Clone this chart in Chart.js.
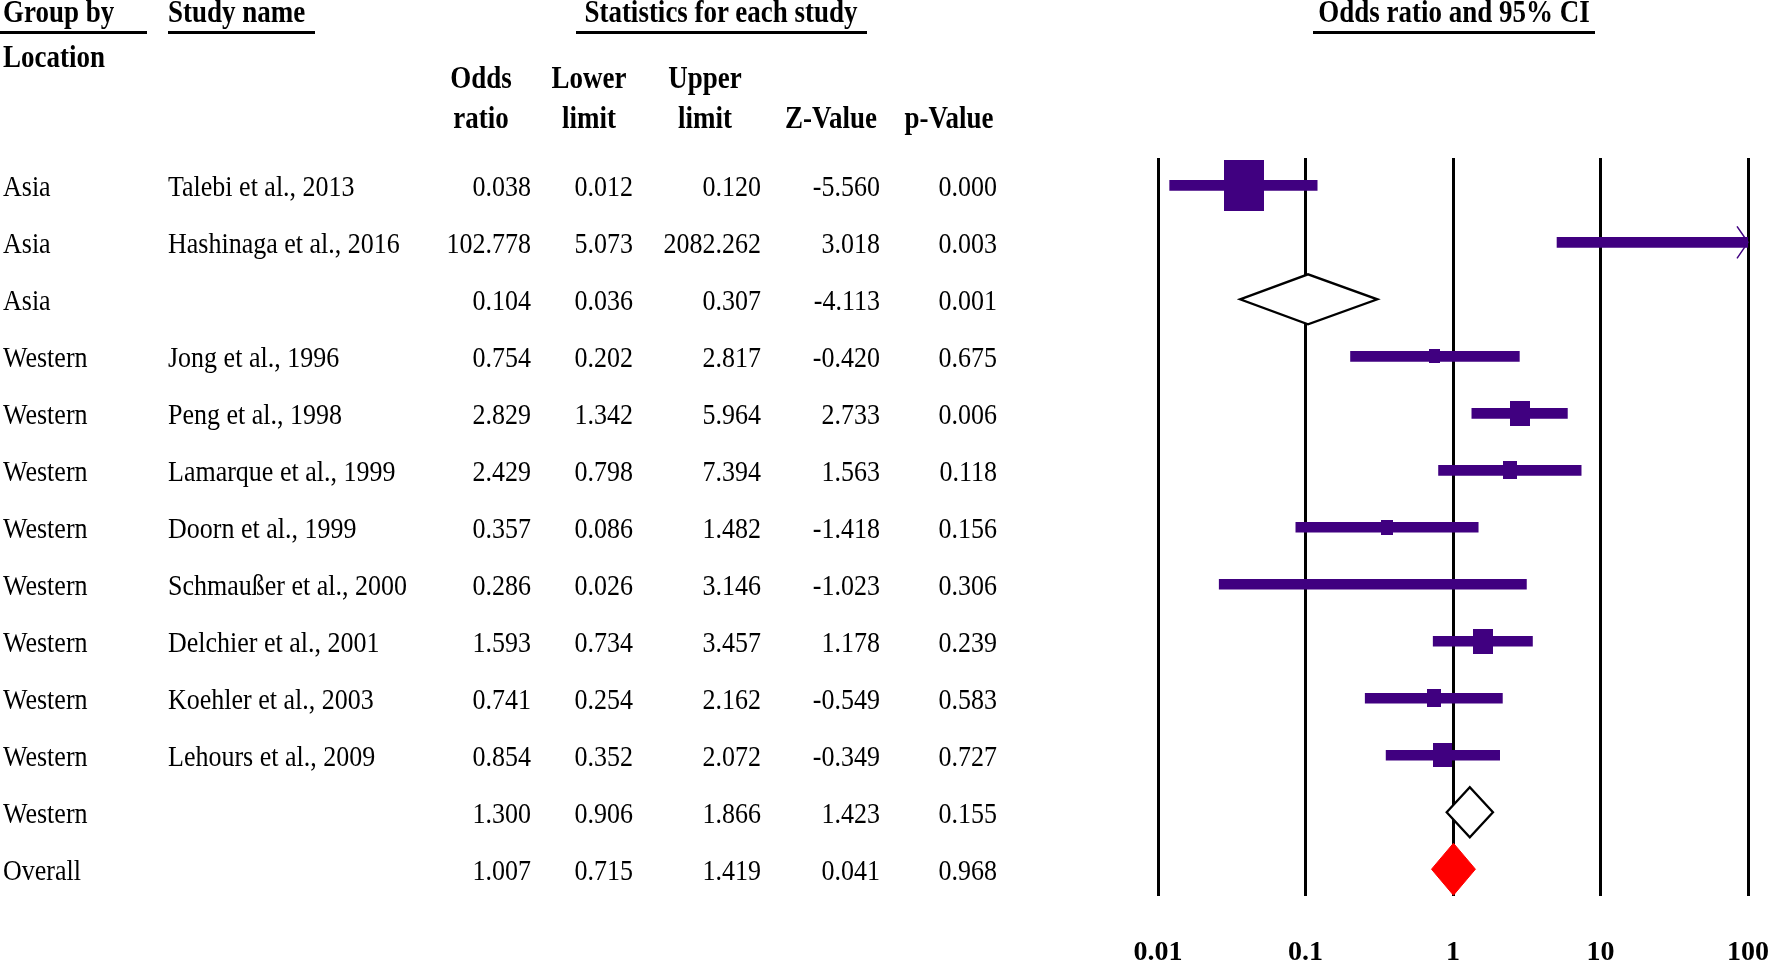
<!DOCTYPE html>
<html>
<head>
<meta charset="utf-8">
<title>Forest plot</title>
<script src="https://cdn.jsdelivr.net/npm/chart.js@4.4.1/dist/chart.umd.min.js"></script>
<style>
  html, body { margin: 0; padding: 0; background: #fff; overflow: hidden; }
  #page { position: relative; width: 1770px; height: 964px; font-family: 'Liberation Serif', 'Times New Roman', serif; color: #000; }
  #plot { position: absolute; left: 0; top: 0; }
  .t { position: absolute; white-space: nowrap; font-size: 26px; line-height: 26px; }
  .h { font-weight: bold; font-size: 27px; line-height: 27px; }
  .rule { position: absolute; height: 3px; background: #000; }
</style>
</head>
<body>
<div id="page">
  <canvas id="plot" width="1770" height="964"></canvas>
</div>
<script>
// ---- data ----
const locations   = ['Asia', 'Asia', 'Asia', 'Western', 'Western', 'Western', 'Western', 'Western', 'Western', 'Western', 'Western', 'Western', 'Overall'];
const studyNames  = ['Talebi et al., 2013', 'Hashinaga et al., 2016', '', 'Jong et al., 1996', 'Peng et al., 1998', 'Lamarque et al., 1999',
                     'Doorn et al., 1999', 'Schmaußer et al., 2000', 'Delchier et al., 2001', 'Koehler et al., 2003', 'Lehours et al., 2009', '', ''];
const rowKind     = ['study', 'study', 'subtotal', 'study', 'study', 'study', 'study', 'study', 'study', 'study', 'study', 'subtotal', 'overall'];
const oddsRatio   = [0.038, 102.778, 0.104, 0.754, 2.829, 2.429, 0.357, 0.286, 1.593, 0.741, 0.854, 1.300, 1.007];
const lowerLimit  = [0.012, 5.073, 0.036, 0.202, 1.342, 0.798, 0.086, 0.026, 0.734, 0.254, 0.352, 0.906, 0.715];
const upperLimit  = [0.120, 2082.262, 0.307, 2.817, 5.964, 7.394, 1.482, 3.146, 3.457, 2.162, 2.072, 1.866, 1.419];
const zValue      = [-5.560, 3.018, -4.113, -0.420, 2.733, 1.563, -1.418, -1.023, 1.178, -0.549, -0.349, 1.423, 0.041];
const pValue      = [0.000, 0.003, 0.001, 0.675, 0.006, 0.118, 0.156, 0.306, 0.239, 0.583, 0.727, 0.155, 0.968];
// relative study weight (square size)
const relWeight   = [16, 1.0, 0, 1.2, 4.0, 2.1, 1.4, 0.7, 4.0, 2.0, 3.6, 0, 0];

const tickValues  = [0.01, 0.1, 1, 10, 100];
const tickLabels  = ['0.01', '0.1', '1', '10', '100'];
const colHead1    = ['Odds', 'Lower', 'Upper', '', ''];
const colHead2    = ['ratio', 'limit', 'limit', 'Z-Value', 'p-Value'];

// ---- layout ----
const PURPLE = '#400080';
const numRight = [531, 633, 761, 880, 997];
const headCenter = [481, 589, 705, 831, 949];
const xMin = tickValues[0], xMax = tickValues[tickValues.length - 1];
const page = document.getElementById('page');

const studyIdx = rowKind.map((k, i) => k === 'study' ? i : -1).filter(i => i >= 0);
const ciData = studyIdx.map(i => ({ x: [lowerLimit[i], upperLimit[i]], y: i }));
const boxData = studyIdx
  .filter(i => oddsRatio[i] >= xMin && oddsRatio[i] <= xMax)
  .map(i => ({ x: oddsRatio[i], y: i, w: relWeight[i] }));

const boxCache = {};
function boxFor(w) {
  if (!boxCache[w]) {
    const c = document.createElement('canvas');
    c.width = Math.max(1, Math.round(10 * Math.sqrt(w)));
    c.height = Math.max(1, Math.round(c.width * 1.27));
    const g = c.getContext('2d');
    g.fillStyle = PURPLE;
    g.fillRect(0, 0, c.width, c.height);
    boxCache[w] = c;
  }
  return boxCache[w];
}

// diamonds for subtotal / overall rows, arrows for cut-off intervals
const forestMarks = {
  id: 'forestMarks',
  afterDatasetsDraw(chart) {
    const { ctx, chartArea } = chart;
    const x = chart.scales.x, y = chart.scales.y;
    ctx.save();
    rowKind.forEach((k, i) => {
      if (k === 'study') return;
      const yc = y.getPixelForValue(i);
      const hh = k === 'overall' ? 26 : 25;
      const xl = x.getPixelForValue(lowerLimit[i]);
      const xm = x.getPixelForValue(oddsRatio[i]);
      const xr = x.getPixelForValue(upperLimit[i]);
      ctx.beginPath();
      ctx.moveTo(xl, yc);
      ctx.lineTo(xm, yc - hh);
      ctx.lineTo(xr, yc);
      ctx.lineTo(xm, yc + hh);
      ctx.closePath();
      ctx.fillStyle = k === 'overall' ? '#ff0000' : '#ffffff';
      ctx.strokeStyle = k === 'overall' ? '#ff0000' : '#000000';
      ctx.lineWidth = k === 'overall' ? 1 : 2.3;
      ctx.fill();
      ctx.stroke();
    });
    studyIdx.forEach(i => {
      if (upperLimit[i] <= xMax) return;
      const yc = y.getPixelForValue(i);
      const xe = chartArea.right;
      ctx.beginPath();
      ctx.moveTo(xe - 11, yc - 16);
      ctx.lineTo(xe, yc);
      ctx.lineTo(xe - 11, yc + 16);
      ctx.strokeStyle = PURPLE;
      ctx.lineWidth = 1.5;
      ctx.stroke();
    });
    ctx.restore();
  }
};

const chart = new Chart(document.getElementById('plot'), {
  type: 'bar',
  data: {
    datasets: [
      { type: 'bar', data: ciData, indexAxis: 'y', order: 2, clip: 0,
        backgroundColor: PURPLE, borderWidth: 0, barThickness: 10 },
      { type: 'scatter', data: boxData, order: 1, showLine: false,
        pointStyle: c => boxFor(c.raw ? c.raw.w : 1), pointRadius: 6 }
    ]
  },
  options: {
    indexAxis: 'y',
    responsive: false,
    animation: false,
    events: [],
    layout: { padding: { left: 1158, right: 22, top: 158, bottom: 0 } },
    plugins: { legend: { display: false }, tooltip: { enabled: false } },
    scales: {
      x: {
        type: 'logarithmic', position: 'bottom', min: xMin, max: xMax,
        beginAtZero: false, offset: false,
        afterBuildTicks: s => { s.ticks = tickValues.map(v => ({ value: v })); },
        afterFit: s => { s.height = 68; },
        grid: { color: '#000', lineWidth: 3, drawTicks: true, tickLength: 40,
                tickColor: 'rgba(0,0,0,0)', offset: false },
        border: { display: false },
        ticks: {
          autoSkip: false, maxRotation: 0, padding: 0, color: '#000',
          font: { family: 'Liberation Serif', size: 28, weight: 'bold' },
          callback: (v, i) => tickLabels[i]
        }
      },
      y: { type: 'linear', min: -0.48, max: 12.47, reverse: true, display: false, offset: false,
           grid: { offset: false } }
    }
  },
  plugins: [forestMarks]
});

// ---- table text ----
function put(text, x, y, cls, align) {
  const el = document.createElement('div');
  el.className = 't' + (cls ? ' ' + cls : '');
  el.textContent = text;
  el.style.left = x + 'px';
  el.style.top = y + 'px';
  const tx = align === 'right' ? '-100%' : align === 'center' ? '-50%' : '0';
  el.style.transform = 'translate(' + tx + ', -50%) scaleY(1.15)';
  page.appendChild(el);
}
function rule(x1, x2, y) {
  const el = document.createElement('div');
  el.className = 'rule';
  el.style.left = x1 + 'px';
  el.style.width = (x2 - x1) + 'px';
  el.style.top = y + 'px';
  page.appendChild(el);
}

put('Group by', 3, 12, 'h');
rule(0, 147, 31);
put('Study name', 168, 12, 'h');
rule(168, 315, 31);
put('Statistics for each study', 721, 12, 'h', 'center');
rule(576, 867, 31);
put('Odds ratio and 95% CI', 1454, 12, 'h', 'center');
rule(1313, 1595, 31);
put('Location', 3, 57, 'h');
colHead1.forEach((s, c) => { if (s) put(s, headCenter[c], 78, 'h', 'center'); });
colHead2.forEach((s, c) => put(s, headCenter[c], 118, 'h', 'center'));

locations.forEach((loc, i) => {
  const yc = chart.scales.y.getPixelForValue(i) + 2;
  put(loc, 3, yc);
  if (studyNames[i]) put(studyNames[i], 168, yc);
  const vals = [oddsRatio[i], lowerLimit[i], upperLimit[i], zValue[i], pValue[i]];
  vals.forEach((v, c) => put(v.toFixed(3), numRight[c], yc, '', 'right'));
});
</script>
</body>
</html>
